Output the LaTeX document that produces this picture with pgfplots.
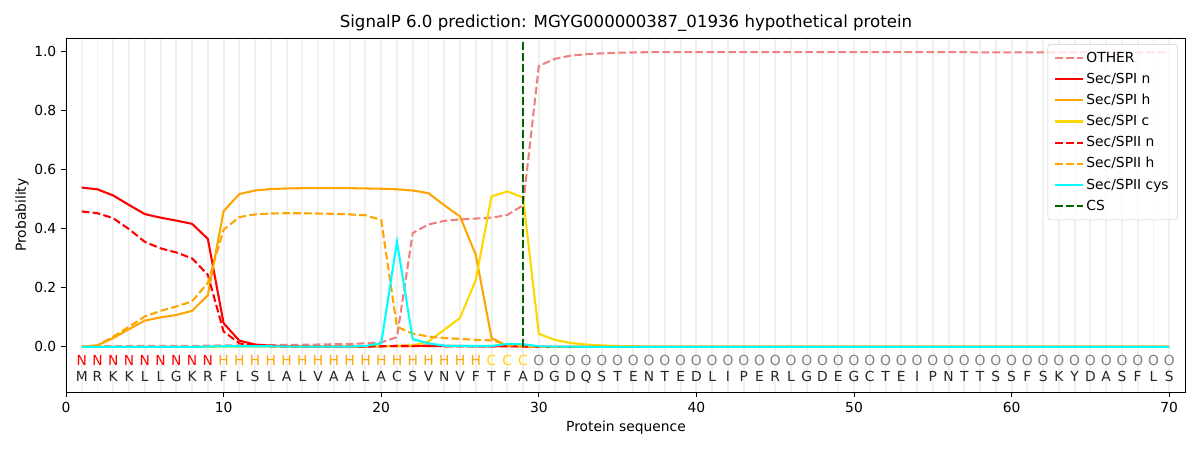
\documentclass[border=0pt]{standalone}
\usepackage{pgfplots}
\pgfplotsset{compat=1.18}
\usepackage{pgfplotstable}
\usepackage{fontspec}
\setmainfont{DejaVu Sans}
\definecolor{lcoral}{HTML}{F08080}
\definecolor{orng}{HTML}{FFA500}
\definecolor{gld}{HTML}{FFD700}
\definecolor{cyn}{HTML}{00FFFF}
\definecolor{dgreen}{HTML}{006400}
\definecolor{gridc}{HTML}{F0F0F0}

\pgfplotstableread{
p OTHER SPIn SPIh SPIc SPIIn SPIIh cys
1 0.001 0.540 0.000 0.000 0.459 0.000 0.000
2 0.002 0.534 0.005 0.000 0.453 0.005 0.000
3 0.002 0.513 0.030 0.000 0.436 0.035 0.000
4 0.003 0.481 0.060 0.000 0.399 0.068 0.000
5 0.003 0.450 0.089 0.000 0.356 0.103 0.000
6 0.003 0.438 0.100 0.000 0.334 0.122 0.000
7 0.003 0.428 0.108 0.000 0.320 0.137 0.000
8 0.003 0.417 0.122 0.000 0.300 0.154 0.000
9 0.004 0.366 0.175 0.000 0.244 0.217 0.001
10 0.005 0.080 0.460 0.001 0.052 0.397 0.002
11 0.005 0.021 0.518 0.001 0.012 0.440 0.002
12 0.006 0.008 0.530 0.001 0.004 0.449 0.002
13 0.006 0.004 0.535 0.001 0.002 0.452 0.002
14 0.007 0.002 0.537 0.001 0.001 0.453 0.001
15 0.007 0.001 0.538 0.001 0.001 0.453 0.001
16 0.008 0.001 0.538 0.001 0.001 0.452 0.001
17 0.009 0.001 0.538 0.001 0.001 0.451 0.001
18 0.010 0.001 0.538 0.001 0.001 0.449 0.001
19 0.012 0.001 0.537 0.002 0.001 0.446 0.003
20 0.015 0.002 0.536 0.002 0.002 0.430 0.012
21 0.033 0.003 0.534 0.003 0.003 0.068 0.356
22 0.386 0.003 0.530 0.005 0.003 0.045 0.026
23 0.415 0.004 0.521 0.018 0.003 0.035 0.012
24 0.427 0.003 0.480 0.058 0.002 0.030 0.004
25 0.432 0.003 0.442 0.098 0.002 0.027 0.003
26 0.435 0.002 0.312 0.227 0.002 0.024 0.003
27 0.438 0.002 0.030 0.510 0.002 0.022 0.003
28 0.447 0.003 0.003 0.527 0.002 0.008 0.010
29 0.480 0.002 0.001 0.506 0.001 0.002 0.009
30 0.952 0.000 0.000 0.044 0.000 0.000 0.002
31 0.976 0.000 0.000 0.024 0.000 0.000 0.001
32 0.987 0.000 0.000 0.013 0.000 0.000 0.001
33 0.992 0.000 0.000 0.008 0.000 0.000 0.000
34 0.995 0.000 0.000 0.005 0.000 0.000 0.000
35 0.997 0.000 0.000 0.003 0.000 0.000 0.000
36 0.998 0.000 0.000 0.002 0.000 0.000 0.000
37 0.999 0.000 0.000 0.001 0.000 0.000 0.000
38 0.999 0.000 0.000 0.001 0.000 0.000 0.000
39 0.999 0.000 0.000 0.001 0.000 0.000 0.000
40 0.999 0.000 0.000 0.001 0.000 0.000 0.000
41 0.999 0.000 0.000 0.001 0.000 0.000 0.000
42 0.999 0.000 0.000 0.001 0.000 0.000 0.000
43 0.999 0.000 0.000 0.001 0.000 0.000 0.000
44 0.999 0.000 0.000 0.001 0.000 0.000 0.000
45 0.999 0.000 0.000 0.001 0.000 0.000 0.000
46 0.999 0.000 0.000 0.001 0.000 0.000 0.000
47 0.999 0.000 0.000 0.001 0.000 0.000 0.000
48 0.999 0.000 0.000 0.001 0.000 0.000 0.000
49 0.999 0.000 0.000 0.001 0.000 0.000 0.000
50 0.999 0.000 0.000 0.001 0.000 0.000 0.000
51 0.999 0.000 0.000 0.001 0.000 0.000 0.000
52 0.999 0.000 0.000 0.001 0.000 0.000 0.000
53 0.999 0.000 0.000 0.001 0.000 0.000 0.000
54 0.999 0.000 0.000 0.001 0.000 0.000 0.000
55 0.999 0.000 0.000 0.001 0.000 0.000 0.000
56 0.999 0.000 0.000 0.001 0.000 0.000 0.000
57 0.999 0.000 0.000 0.001 0.000 0.000 0.000
58 0.998 0.000 0.000 0.001 0.000 0.000 0.000
59 0.998 0.000 0.000 0.001 0.000 0.000 0.000
60 0.998 0.000 0.000 0.001 0.000 0.000 0.000
61 0.998 0.000 0.000 0.001 0.000 0.000 0.000
62 0.998 0.000 0.000 0.001 0.000 0.000 0.000
63 0.998 0.000 0.000 0.001 0.000 0.000 0.000
64 0.998 0.000 0.000 0.001 0.000 0.000 0.000
65 0.998 0.000 0.000 0.001 0.000 0.000 0.000
66 0.998 0.000 0.000 0.001 0.000 0.000 0.000
67 0.998 0.000 0.000 0.001 0.000 0.000 0.000
68 0.998 0.000 0.000 0.001 0.000 0.000 0.000
69 0.998 0.000 0.000 0.001 0.000 0.000 0.000
70 0.998 0.000 0.000 0.001 0.000 0.000 0.000
}\probs

\pgfplotstableread{
x y l
1 -0.047 N
2 -0.047 N
3 -0.047 N
4 -0.047 N
5 -0.047 N
6 -0.047 N
7 -0.047 N
8 -0.047 N
9 -0.047 N
}\labN
\pgfplotstableread{
x y l
10 -0.047 H
11 -0.047 H
12 -0.047 H
13 -0.047 H
14 -0.047 H
15 -0.047 H
16 -0.047 H
17 -0.047 H
18 -0.047 H
19 -0.047 H
20 -0.047 H
21 -0.047 H
22 -0.047 H
23 -0.047 H
24 -0.047 H
25 -0.047 H
26 -0.047 H
}\labH
\pgfplotstableread{
x y l
27 -0.047 C
28 -0.047 C
29 -0.047 C
}\labC
\pgfplotstableread{
x y l
30 -0.047 O
31 -0.047 O
32 -0.047 O
33 -0.047 O
34 -0.047 O
35 -0.047 O
36 -0.047 O
37 -0.047 O
38 -0.047 O
39 -0.047 O
40 -0.047 O
41 -0.047 O
42 -0.047 O
43 -0.047 O
44 -0.047 O
45 -0.047 O
46 -0.047 O
47 -0.047 O
48 -0.047 O
49 -0.047 O
50 -0.047 O
51 -0.047 O
52 -0.047 O
53 -0.047 O
54 -0.047 O
55 -0.047 O
56 -0.047 O
57 -0.047 O
58 -0.047 O
59 -0.047 O
60 -0.047 O
61 -0.047 O
62 -0.047 O
63 -0.047 O
64 -0.047 O
65 -0.047 O
66 -0.047 O
67 -0.047 O
68 -0.047 O
69 -0.047 O
70 -0.047 O
}\labO
\pgfplotstableread{
x y l
1 -0.102 M
2 -0.102 R
3 -0.102 K
4 -0.102 K
5 -0.102 L
6 -0.102 L
7 -0.102 G
8 -0.102 K
9 -0.102 R
10 -0.102 F
11 -0.102 L
12 -0.102 S
13 -0.102 L
14 -0.102 A
15 -0.102 L
16 -0.102 V
17 -0.102 A
18 -0.102 A
19 -0.102 L
20 -0.102 A
21 -0.102 C
22 -0.102 S
23 -0.102 V
24 -0.102 N
25 -0.102 V
26 -0.102 F
27 -0.102 T
28 -0.102 F
29 -0.102 A
30 -0.102 D
31 -0.102 G
32 -0.102 D
33 -0.102 Q
34 -0.102 S
35 -0.102 T
36 -0.102 E
37 -0.102 N
38 -0.102 T
39 -0.102 E
40 -0.102 D
41 -0.102 L
42 -0.102 I
43 -0.102 P
44 -0.102 E
45 -0.102 R
46 -0.102 L
47 -0.102 G
48 -0.102 D
49 -0.102 E
50 -0.102 G
51 -0.102 C
52 -0.102 T
53 -0.102 E
54 -0.102 I
55 -0.102 P
56 -0.102 N
57 -0.102 T
58 -0.102 T
59 -0.102 S
60 -0.102 S
61 -0.102 F
62 -0.102 S
63 -0.102 K
64 -0.102 Y
65 -0.102 D
66 -0.102 A
67 -0.102 S
68 -0.102 F
69 -0.102 L
70 -0.102 S
}\labSeq

\begin{document}
\begin{tikzpicture}[x=1in,y=1in]
\useasboundingbox (0,0) rectangle (12,4.5);
\begin{axis}[
  at={(0.66in,0.58in)}, anchor=south west,
  scale only axis, width=11.19in, height=3.54in,
  xmin=0, xmax=71, ymin=-0.153, ymax=1.047,
  xtick={0,10,...,70}, ytick={0,0.2,...,1.0},
  minor x tick num=9,
  xmajorgrids, xminorgrids,
  major grid style={gridc, line width=1.4pt},
  minor grid style={gridc, line width=1.4pt},
  minor tick length=0pt, major tick length=3.5pt,
  tick align=outside, xtick pos=bottom, ytick pos=left,
  tick style={black, line width=0.6pt},
  axis line style={line width=0.6pt},
  /pgf/number format/assume math mode=true,
  ticklabel style={font=\fontsize{10}{12}\selectfont},
  yticklabel style={/pgf/number format/fixed, /pgf/number format/fixed zerofill, /pgf/number format/precision=1},
  legend cell align=left,
  legend style={at={(rel axis cs:0.9937,0.983)}, anchor=north east,
    draw=black!20, rounded corners=2pt, fill=white, fill opacity=0.8, text opacity=1,
    font=\fontsize{10}{12}\selectfont, row sep=2.3pt, inner xsep=4.5pt, inner ysep=3.5pt},
  legend image code/.code={\draw[#1] plot coordinates {(0cm,0cm) (0.7cm,0cm)};},
  every axis plot/.append style={line width=1.5pt},
  clip=false,
]
\addplot[lcoral, dash pattern=on 5.55pt off 2.4pt] table[x=p,y=OTHER]{\probs};
\addlegendentry{OTHER}
\addplot[red] table[x=p,y=SPIn]{\probs};
\addlegendentry{Sec/SPI n}
\addplot[orng] table[x=p,y=SPIh]{\probs};
\addlegendentry{Sec/SPI h}
\addplot[gld] table[x=p,y=SPIc]{\probs};
\addlegendentry{Sec/SPI c}
\addplot[red, dash pattern=on 5.55pt off 2.4pt] table[x=p,y=SPIIn]{\probs};
\addlegendentry{Sec/SPII n}
\addplot[orng, dash pattern=on 5.55pt off 2.4pt] table[x=p,y=SPIIh]{\probs};
\addlegendentry{Sec/SPII h}
\addplot[cyn] table[x=p,y=cys]{\probs};
\addlegendentry{Sec/SPII cys}
\addplot[dgreen, dash pattern=on 5.55pt off 2.4pt] coordinates {(29,0) (29,1.037)};
\addlegendentry{CS}

\pgfplotsset{lab/.style={draw=none, mark=none, forget plot, nodes near coords,
  point meta=explicit symbolic, nodes near coords align={center},
  every node near coord/.append style={font=\fontsize{10}{12}\selectfont, inner sep=0pt, anchor=center, text=#1}}}
\addplot[lab=red] table[x=x,y=y,meta=l]{\labN};
\addplot[lab=orng] table[x=x,y=y,meta=l]{\labH};
\addplot[lab=gld] table[x=x,y=y,meta=l]{\labC};
\addplot[lab=gray] table[x=x,y=y,meta=l]{\labO};
\addplot[lab=black!85] table[x=x,y=y,meta=l]{\labSeq};
\end{axis}
\node[font=\fontsize{12}{14}\selectfont] at (6.26,4.265) {SignalP 6.0 prediction: MGYG000000387\_01936 hypothetical protein};
\node[font=\fontsize{10}{12}\selectfont] at (6.26,0.22) {Protein sequence};
\node[font=\fontsize{10}{12}\selectfont, rotate=90] at (0.22,2.35) {Probability};
\end{tikzpicture}
\end{document}
